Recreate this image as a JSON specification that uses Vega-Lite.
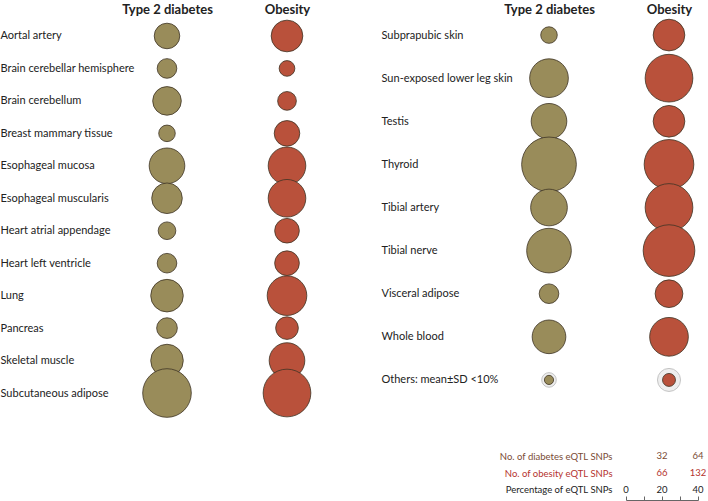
{
  "$schema": "https://vega.github.io/schema/vega-lite/v6.json",
  "padding": {"left": 0, "top": 3, "right": 0, "bottom": 0},
  "config": {"view": {"stroke": null}, "font": "Lato", "axis": {"grid": false}},
  "datasets": {
    "left": [
      {"tissue": "Aortal artery", "trait": "Type 2 diabetes", "pct": 14.2},
      {"tissue": "Aortal artery", "trait": "Obesity", "pct": 17.6},
      {"tissue": "Brain cerebellar hemisphere", "trait": "Type 2 diabetes", "pct": 10.9},
      {"tissue": "Brain cerebellar hemisphere", "trait": "Obesity", "pct": 8.7},
      {"tissue": "Brain cerebellum", "trait": "Type 2 diabetes", "pct": 15.9},
      {"tissue": "Brain cerebellum", "trait": "Obesity", "pct": 10.4},
      {"tissue": "Breast mammary tissue", "trait": "Type 2 diabetes", "pct": 9.2},
      {"tissue": "Breast mammary tissue", "trait": "Obesity", "pct": 14.2},
      {"tissue": "Esophageal mucosa", "trait": "Type 2 diabetes", "pct": 19.8},
      {"tissue": "Esophageal mucosa", "trait": "Obesity", "pct": 20.9},
      {"tissue": "Esophageal muscularis", "trait": "Type 2 diabetes", "pct": 17.0},
      {"tissue": "Esophageal muscularis", "trait": "Obesity", "pct": 20.9},
      {"tissue": "Heart atrial appendage", "trait": "Type 2 diabetes", "pct": 9.8},
      {"tissue": "Heart atrial appendage", "trait": "Obesity", "pct": 13.7},
      {"tissue": "Heart left ventricle", "trait": "Type 2 diabetes", "pct": 10.9},
      {"tissue": "Heart left ventricle", "trait": "Obesity", "pct": 13.7},
      {"tissue": "Lung", "trait": "Type 2 diabetes", "pct": 18.1},
      {"tissue": "Lung", "trait": "Obesity", "pct": 22.0},
      {"tissue": "Pancreas", "trait": "Type 2 diabetes", "pct": 11.5},
      {"tissue": "Pancreas", "trait": "Obesity", "pct": 12.6},
      {"tissue": "Skeletal muscle", "trait": "Type 2 diabetes", "pct": 18.1},
      {"tissue": "Skeletal muscle", "trait": "Obesity", "pct": 19.8},
      {"tissue": "Subcutaneous adipose", "trait": "Type 2 diabetes", "pct": 27.0},
      {"tissue": "Subcutaneous adipose", "trait": "Obesity", "pct": 26.5}
    ],
    "right": [
      {"tissue": "Subprapubic skin", "trait": "Type 2 diabetes", "pct": 9.2},
      {"tissue": "Subprapubic skin", "trait": "Obesity", "pct": 17.6},
      {"tissue": "Sun-exposed lower leg skin", "trait": "Type 2 diabetes", "pct": 21.5},
      {"tissue": "Sun-exposed lower leg skin", "trait": "Obesity", "pct": 26.5},
      {"tissue": "Testis", "trait": "Type 2 diabetes", "pct": 19.8},
      {"tissue": "Testis", "trait": "Obesity", "pct": 17.6},
      {"tissue": "Thyroid", "trait": "Type 2 diabetes", "pct": 30.4},
      {"tissue": "Thyroid", "trait": "Obesity", "pct": 27.6},
      {"tissue": "Tibial artery", "trait": "Type 2 diabetes", "pct": 20.4},
      {"tissue": "Tibial artery", "trait": "Obesity", "pct": 26.5},
      {"tissue": "Tibial nerve", "trait": "Type 2 diabetes", "pct": 24.8},
      {"tissue": "Tibial nerve", "trait": "Obesity", "pct": 28.7},
      {"tissue": "Visceral adipose", "trait": "Type 2 diabetes", "pct": 10.9},
      {"tissue": "Visceral adipose", "trait": "Obesity", "pct": 15.4},
      {"tissue": "Whole blood", "trait": "Type 2 diabetes", "pct": 18.7},
      {"tissue": "Whole blood", "trait": "Obesity", "pct": 21.5},
      {"tissue": "Others: mean±SD <10%", "trait": "Type 2 diabetes", "pct": 5.1},
      {"tissue": "Others: mean±SD <10%", "trait": "Obesity", "pct": 7.2}
    ],
    "ring": [
      {"tissue": "Others: mean±SD <10%", "trait": "Type 2 diabetes", "pct": 8.1},
      {"tissue": "Others: mean±SD <10%", "trait": "Obesity", "pct": 12.8}
    ],
    "legend": [
      {"row": "No. of diabetes eQTL SNPs", "pct": 20, "label": "32"},
      {"row": "No. of diabetes eQTL SNPs", "pct": 40, "label": "64"},
      {"row": "No. of obesity eQTL SNPs", "pct": 20, "label": "66"},
      {"row": "No. of obesity eQTL SNPs", "pct": 40, "label": "132"},
      {"row": "Percentage of eQTL SNPs", "pct": 0, "label": "0"},
      {"row": "Percentage of eQTL SNPs", "pct": 20, "label": "20"},
      {"row": "Percentage of eQTL SNPs", "pct": 40, "label": "40"}
    ]
  },
  "spacing": 27,
  "vconcat": [
    {
      "spacing": 64,
      "hconcat": [
        {
          "width": 180,
          "height": 383,
          "data": {"name": "left"},
          "mark": {"type": "circle", "opacity": 1, "stroke": "#3d3325", "strokeWidth": 0.8},
          "encoding": {
            "x": {"field": "trait", "type": "nominal",
              "scale": {"type": "point", "padding": 0.25, "domain": ["Type 2 diabetes", "Obesity"]},
              "axis": {"orient": "top", "title": null, "ticks": false, "domain": false, "labelAngle": 0,
                "labelFontWeight": "bold", "labelFontSize": 13, "labelPadding": 7, "labelColor": "#222"}},
            "y": {"field": "tissue", "type": "nominal",
              "scale": {"type": "point", "padding": 0.4, "domain": ["Aortal artery", "Brain cerebellar hemisphere", "Brain cerebellum", "Breast mammary tissue", "Esophageal mucosa", "Esophageal muscularis", "Heart atrial appendage", "Heart left ventricle", "Lung", "Pancreas", "Skeletal muscle", "Subcutaneous adipose"]},
              "axis": {"title": null, "ticks": false, "domain": false, "labelAlign": "left", "labelPadding": 137,
                "labelFontSize": 11, "labelColor": "#222", "labelLimit": 300}},
            "size": {"field": "pct", "type": "quantitative",
              "scale": {"type": "pow", "exponent": 2, "domain": [0, 40], "range": [0, 5184]}, "legend": null},
            "color": {"field": "trait", "type": "nominal",
              "scale": {"domain": ["Type 2 diabetes", "Obesity"], "range": ["#998c5a", "#b9513b"]}, "legend": null}
          }
        },
        {
          "width": 180,
          "height": 369,
          "encoding": {
            "x": {"field": "trait", "type": "nominal",
              "scale": {"type": "point", "padding": 0.25, "domain": ["Type 2 diabetes", "Obesity"]},
              "axis": {"orient": "top", "title": null, "ticks": false, "domain": false, "labelAngle": 0,
                "labelFontWeight": "bold", "labelFontSize": 13, "labelPadding": 7, "labelColor": "#222"}},
            "y": {"field": "tissue", "type": "nominal",
              "scale": {"type": "point", "padding": 0.28, "domain": ["Subprapubic skin", "Sun-exposed lower leg skin", "Testis", "Thyroid", "Tibial artery", "Tibial nerve", "Visceral adipose", "Whole blood", "Others: mean±SD <10%"]},
              "axis": {"title": null, "ticks": false, "domain": false, "labelAlign": "left", "labelPadding": 138,
                "labelFontSize": 11, "labelColor": "#222", "labelLimit": 300}},
            "size": {"field": "pct", "type": "quantitative",
              "scale": {"type": "pow", "exponent": 2, "domain": [0, 40], "range": [0, 5184]}, "legend": null}
          },
          "layer": [
            {
              "data": {"name": "ring"},
              "mark": {"type": "circle", "opacity": 1, "fill": "#eeeeee", "stroke": "#c4c4c4", "strokeWidth": 1}
            },
            {
              "data": {"name": "right"},
              "mark": {"type": "circle", "opacity": 1, "stroke": "#3d3325", "strokeWidth": 0.8},
              "encoding": {
                "color": {"field": "trait", "type": "nominal",
                  "scale": {"domain": ["Type 2 diabetes", "Obesity"], "range": ["#998c5a", "#b9513b"]}, "legend": null}
              }
            }
          ]
        }
      ]
    },
    {
      "spacing": 27,
      "align": "each",
      "hconcat": [
        {
          "width": 334,
          "height": 10,
          "data": {"values": [{"a": 1}]},
          "mark": {"type": "point", "opacity": 0}
        },
        {
          "width": 72,
          "height": 54,
          "data": {"name": "legend"},
          "mark": {"type": "text", "fontSize": 9.5, "align": "center", "baseline": "middle"},
          "encoding": {
            "x": {"field": "pct", "type": "quantitative",
              "scale": {"domain": [0, 40], "nice": false, "zero": false},
              "axis": {"orient": "bottom", "title": null, "values": [0, 10, 20, 30, 40], "labels": false,
                "tickSize": -4, "domainColor": "#666", "tickColor": "#666", "grid": false}},
            "y": {"field": "row", "type": "nominal",
              "scale": {"type": "point", "padding": 0.59, "domain": ["No. of diabetes eQTL SNPs", "No. of obesity eQTL SNPs", "Percentage of eQTL SNPs"]},
              "axis": {"title": null, "ticks": false, "domain": false, "labelPadding": 14, "labelFontSize": 9.5,
                "labelColor": {"condition": [
                  {"test": "datum.value === 'No. of diabetes eQTL SNPs'", "value": "#7a4b34"},
                  {"test": "datum.value === 'No. of obesity eQTL SNPs'", "value": "#b5332e"}
                ], "value": "#222"}}},
            "text": {"field": "label", "type": "nominal"},
            "color": {"condition": [
              {"test": "datum.row === 'No. of diabetes eQTL SNPs'", "value": "#7a4b34"},
              {"test": "datum.row === 'No. of obesity eQTL SNPs'", "value": "#b5332e"}
            ], "value": "#222222"}
          }
        }
      ]
    }
  ]
}
